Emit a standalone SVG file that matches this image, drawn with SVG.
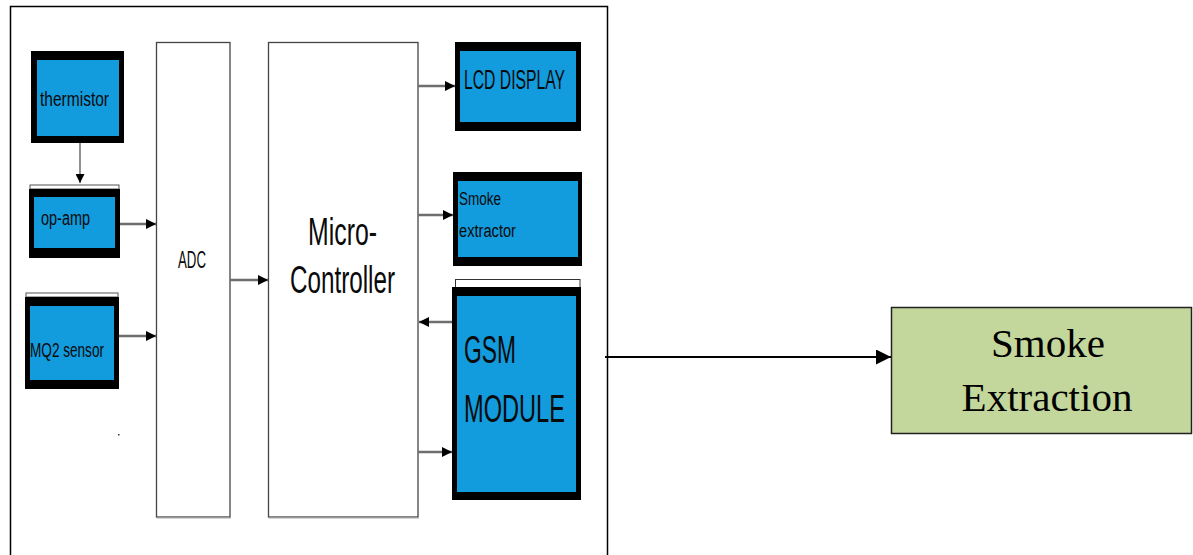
<svg xmlns="http://www.w3.org/2000/svg" width="1193" height="555" viewBox="0 0 1193 555">
<defs>
<style>
.frame{fill:none;stroke:#000;stroke-width:1.5}
.blk{fill:#000}
.blue{fill:#129bdd}
.white{fill:#fff;stroke:#444;stroke-width:1.3}
.lbl{font-family:"Liberation Sans",Arial,sans-serif;fill:#0a0a0a}
.conn{stroke:#6e6e6e;stroke-width:2.5;fill:none}
.serif{font-family:"Liberation Serif","Times New Roman",serif;font-size:41px;fill:#000;text-anchor:middle}
</style>
<marker id="ah" viewBox="0 0 10 10" refX="10" refY="5" markerWidth="4" markerHeight="4.4" markerUnits="strokeWidth" orient="auto">
<path d="M0,0 L10,5 L0,10 z" fill="#000"/>
</marker>
<marker id="ahs" viewBox="0 0 10 10" refX="10" refY="5" markerWidth="9" markerHeight="9" markerUnits="userSpaceOnUse" orient="auto">
<path d="M0,0 L10,5 L0,10 z" fill="#000"/>
</marker>
<marker id="ahb" viewBox="0 0 10 10" refX="10" refY="5" markerWidth="7.5" markerHeight="7.5" markerUnits="strokeWidth" orient="auto">
<path d="M0,0 L10,5 L0,10 z" fill="#000"/>
</marker>
</defs>
<rect x="0" y="0" width="1193" height="555" fill="#fff"/>

<g id="frame">
<path class="frame" d="M10.5,556 V6.5 H607.5 V556"/>
<rect x="118" y="434" width="1.5" height="1.5" fill="#333"/>
</g>

<g id="adc">
<rect class="white" x="156.5" y="42.5" width="73.5" height="474.5"/>
<line x1="157" y1="518" x2="231" y2="518" stroke="#aaa" stroke-width="1"/>
<text class="lbl" x="178" y="268" font-size="23" textLength="28" lengthAdjust="spacingAndGlyphs">ADC</text>
</g>

<g id="micro">
<rect class="white" x="268.5" y="42.5" width="149.5" height="474.5"/>
<line x1="269" y1="518" x2="419" y2="518" stroke="#aaa" stroke-width="1"/>
<text class="lbl" x="308" y="245" font-size="38" textLength="69" lengthAdjust="spacingAndGlyphs">Micro-</text>
<text class="lbl" x="290" y="293" font-size="38" textLength="105" lengthAdjust="spacingAndGlyphs">Controller</text>
</g>

<g id="thermistor">
<rect class="blk" x="31" y="51" width="93" height="92"/>
<rect class="blue" x="37" y="60" width="82" height="76"/>
<text class="lbl" x="40" y="106" font-size="20" textLength="69" lengthAdjust="spacingAndGlyphs">thermistor</text>
</g>

<g id="opamp">
<rect x="30" y="185" width="89" height="4" fill="#fff" stroke="#555" stroke-width="1"/>
<rect class="blk" x="29" y="189" width="91" height="69"/>
<rect class="blue" x="34" y="197" width="81" height="51"/>
<text class="lbl" x="41" y="225" font-size="20" textLength="49" lengthAdjust="spacingAndGlyphs">op-amp</text>
</g>

<g id="mq2">
<rect x="26" y="293" width="92" height="4" fill="#fff" stroke="#555" stroke-width="1"/>
<rect class="blk" x="25" y="297" width="94" height="92"/>
<rect class="blue" x="30" y="306" width="84" height="74"/>
<text class="lbl" x="30" y="357" font-size="20" textLength="74" lengthAdjust="spacingAndGlyphs">MQ2 sensor</text>
</g>

<g id="lcd">
<rect class="blk" x="455" y="42" width="126" height="89"/>
<rect class="blue" x="460" y="51" width="116" height="71"/>
<text class="lbl" x="464" y="89" font-size="27" textLength="101" lengthAdjust="spacingAndGlyphs">LCD DISPLAY</text>
</g>

<g id="smoke-extractor">
<rect class="blk" x="453" y="172" width="129" height="94"/>
<rect class="blue" x="458" y="181" width="120" height="76"/>
<text class="lbl" x="459" y="205" font-size="18" textLength="42" lengthAdjust="spacingAndGlyphs">Smoke</text>
<text class="lbl" x="459" y="237" font-size="18" textLength="57" lengthAdjust="spacingAndGlyphs">extractor</text>
</g>

<g id="gsm">
<rect x="455.5" y="279.5" width="124.5" height="8" fill="#fff" stroke="#333" stroke-width="1"/>
<rect class="blk" x="452" y="287" width="129" height="213"/>
<rect class="blue" x="457" y="296" width="119" height="196"/>
<text class="lbl" x="464" y="363" font-size="39" textLength="52" lengthAdjust="spacingAndGlyphs">GSM</text>
<text class="lbl" x="464" y="422" font-size="39" textLength="101" lengthAdjust="spacingAndGlyphs">MODULE</text>
</g>

<g id="smoke-extraction">
<rect x="891.5" y="307.5" width="300" height="126" fill="#c3d69b" stroke="#222" stroke-width="1.5"/>
<text class="serif" x="1048" y="357">Smoke</text>
<text class="serif" x="1047" y="411">Extraction</text>
</g>

<g id="connectors">
<line x1="80" y1="143" x2="80" y2="183" stroke="#555" stroke-width="1.3" marker-end="url(#ahs)"/>
<line class="conn" x1="120" y1="224" x2="156" y2="224" marker-end="url(#ah)"/>
<line class="conn" x1="119" y1="336" x2="156" y2="336" marker-end="url(#ah)"/>
<line class="conn" x1="230" y1="280" x2="268" y2="280" marker-end="url(#ah)"/>
<line class="conn" x1="418" y1="86" x2="455" y2="86" marker-end="url(#ah)"/>
<line class="conn" x1="418" y1="215" x2="453" y2="215" marker-end="url(#ah)"/>
<line class="conn" x1="452" y1="322" x2="419" y2="322" marker-end="url(#ah)"/>
<line class="conn" x1="418" y1="452" x2="452" y2="452" marker-end="url(#ah)"/>
<line x1="605" y1="357" x2="891" y2="357" stroke="#000" stroke-width="2" marker-end="url(#ahb)"/>
</g>
</svg>
